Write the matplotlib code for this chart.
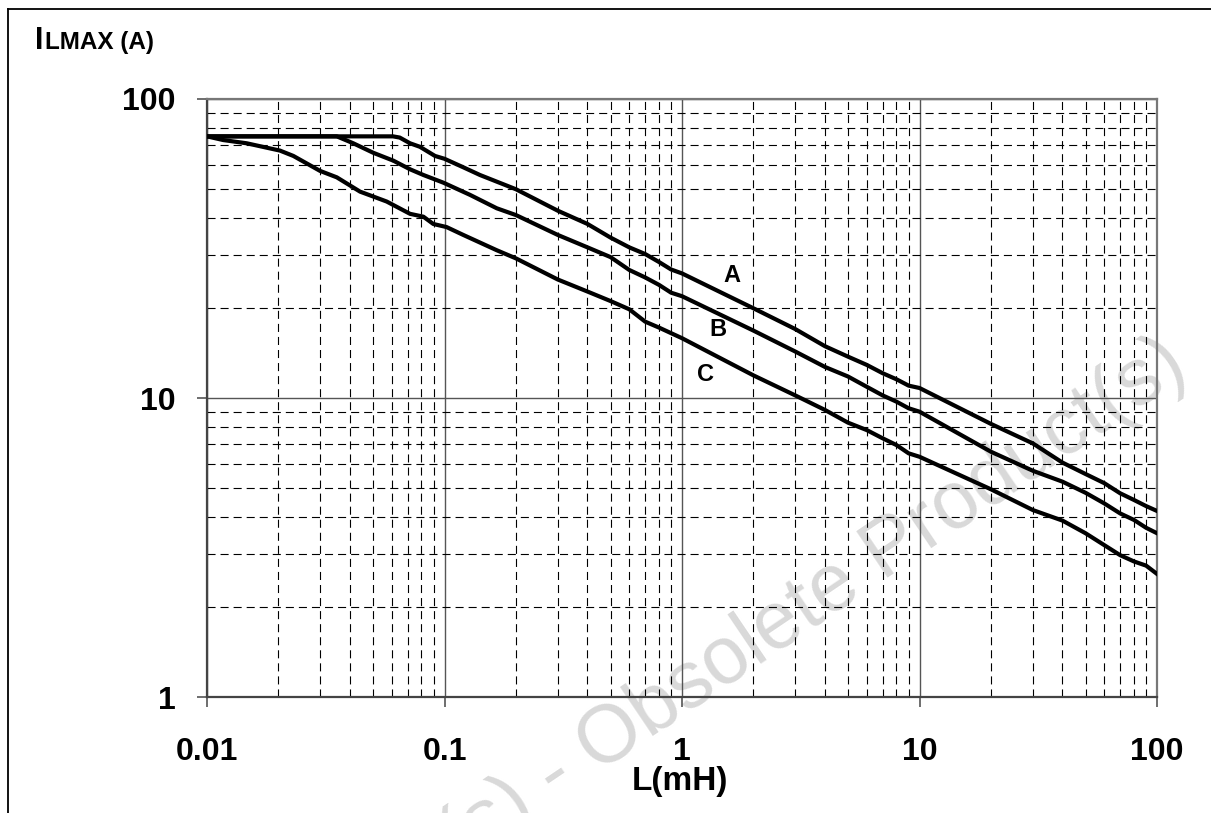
import matplotlib
matplotlib.use("Agg")
import matplotlib.pyplot as plt
from matplotlib.lines import Line2D
from matplotlib.ticker import LogLocator, NullFormatter

plt.rcParams["font.family"] = ["Liberation Sans", "DejaVu Sans"]
plt.rcParams["lines.scale_dashes"] = False

# inductance L (mH) and max current ILMAX (A)
a_x = [0.01, 0.03, 0.0607, 0.0648, 0.0716, 0.0788, 0.0912, 0.1, 0.12, 0.141, 0.2, 0.3, 0.4, 0.5,
       0.6, 0.7, 0.8, 0.9, 1, 2, 3, 4, 5, 6, 7, 8, 9, 10, 20, 30, 40, 50, 60, 70, 80, 90, 100]
a_y = [75, 75, 75, 74.3, 71.1, 69.2, 64.5, 63.1, 59.1, 55.7, 49.9, 42.3, 38.2, 34.4,
       31.9, 30.3, 28.5, 26.9, 26.1, 19.95, 17.0, 14.9, 13.75, 12.9, 12.1, 11.55, 11.0, 10.8,
       8.19, 7.05, 6.08, 5.57, 5.19, 4.80, 4.56, 4.35, 4.19]

b_x = [0.01, 0.0352, 0.0413, 0.0501, 0.0609, 0.0716, 0.0815, 0.0989, 0.128, 0.166, 0.2, 0.3,
       0.4, 0.5, 0.6, 0.7, 0.8, 0.9, 1, 2, 3, 4, 5, 6, 7, 8, 9, 10, 20, 30, 40, 50, 60, 70, 80, 90, 100]
b_y = [75, 75, 71.1, 66.1, 62.2, 58.2, 55.7, 52.5, 47.8, 43.1, 40.9, 35.1,
       31.9, 29.6, 26.8, 25.3, 23.9, 22.5, 21.9, 16.8, 14.3, 12.7, 11.8, 10.9, 10.2, 9.72, 9.24, 9.0,
       6.61, 5.71, 5.25, 4.82, 4.44, 4.11, 3.91, 3.68, 3.53]

c_x = [0.01, 0.0117, 0.0147, 0.0203, 0.0231, 0.0299, 0.0352, 0.0441, 0.0571, 0.0716, 0.0815,
       0.0897, 0.102, 0.12, 0.166, 0.2, 0.3, 0.4, 0.5, 0.6, 0.7, 0.8, 1, 2, 3, 4, 5, 6, 7, 8, 9, 10,
       20, 30, 40, 50, 60, 70, 80, 90, 100]
c_y = [75, 72.9, 71.1, 67.2, 64.5, 57.5, 54.7, 49.0, 45.4, 41.3, 40.4,
       38.2, 37.3, 35.1, 31.2, 29.3, 24.9, 22.7, 21.1, 19.8, 18.0, 17.2, 15.85, 11.9, 10.2, 9.12, 8.27,
       7.81, 7.33, 6.96, 6.53, 6.36, 4.95, 4.22, 3.89, 3.53, 3.22, 2.98, 2.84, 2.75, 2.58]

curve_labels = ["A", "B", "C"]
label_x = [1.62, 1.42, 1.25]
label_y = [25.7, 16.9, 12.0]

x_ticks = [0.01, 0.1, 1, 10, 100]
x_ticklabels = ["0.01", "0.1", "1", "10", "100"]
y_ticks = [1, 10, 100]
y_ticklabels = ["1", "10", "100"]

W, H = 1211, 813
fig = plt.figure(figsize=(W / 100, H / 100), dpi=100)


def px(x, y):
    return x / W, 1 - y / H


ax = fig.add_axes([207 / W, (H - 697) / H, 950 / W, 598 / H])
ax.patch.set_alpha(0)
ax.set_xscale("log")
ax.set_yscale("log")
ax.set_xlim(0.01, 100)
ax.set_ylim(1, 100)

for xs, ys in [(a_x, a_y), (b_x, b_y), (c_x, c_y)]:
    ax.plot(xs, ys, color="black", lw=3, solid_joinstyle="round", zorder=3)

for t, lx, ly in zip(curve_labels, label_x, label_y):
    ax.text(lx, ly, t, fontsize=17, fontweight="bold", ha="center", va="center", zorder=4)

ax.xaxis.set_minor_locator(LogLocator(base=10, subs=range(2, 10)))
ax.yaxis.set_minor_locator(LogLocator(base=10, subs=range(2, 10)))
ax.xaxis.set_minor_formatter(NullFormatter())
ax.yaxis.set_minor_formatter(NullFormatter())
ax.grid(which="major", color="#555555", lw=1.0, ls="-")
ax.grid(which="minor", color="black", lw=0.8, ls=(0, (5.8, 3.6)))

ax.set_xticks(x_ticks)
ax.set_xticklabels(x_ticklabels)
ax.set_yticks(y_ticks)
ax.set_yticklabels(y_ticklabels)
ax.tick_params(which="minor", length=0)
ax.tick_params(which="major", length=7.5, width=1.2, color="#555555", labelsize=23)
ax.tick_params(axis="x", pad=21)
ax.tick_params(axis="y", pad=15)
for lab in ax.get_xticklabels() + ax.get_yticklabels():
    lab.set_fontweight("bold")
for side in ["left", "right", "top", "bottom"]:
    ax.spines[side].set_color("#777777")
    ax.spines[side].set_linewidth(1.6)
ax.spines["bottom"].set_color("#444444")
ax.spines["left"].set_color("#444444")

# axis titles
fig.text(*px(680, 781), "L(mH)", fontsize=24, fontweight="bold", ha="center", va="center")
fig.text(*px(35, 49), "I", fontsize=22, fontweight="bold", ha="left", va="baseline")
fig.text(*px(45, 49), "LMAX (A)", fontsize=17.5, fontweight="bold", ha="left", va="baseline")

# watermark
fig.text(*px(1191, 373), "Obsolete Product(s) - Obsolete Product(s)", fontsize=58,
         color="#d9d9d9", rotation=34, rotation_mode="anchor", ha="right", va="baseline",
         zorder=-1)

# page frame (left and top edges)
fig.add_artist(Line2D([8 / W, 8 / W], [0, 1 - 9 / H], color="black", lw=1.3))
fig.add_artist(Line2D([8 / W, 1], [1 - 9 / H, 1 - 9 / H], color="black", lw=1.3))

fig.savefig("out.png", dpi=100)
